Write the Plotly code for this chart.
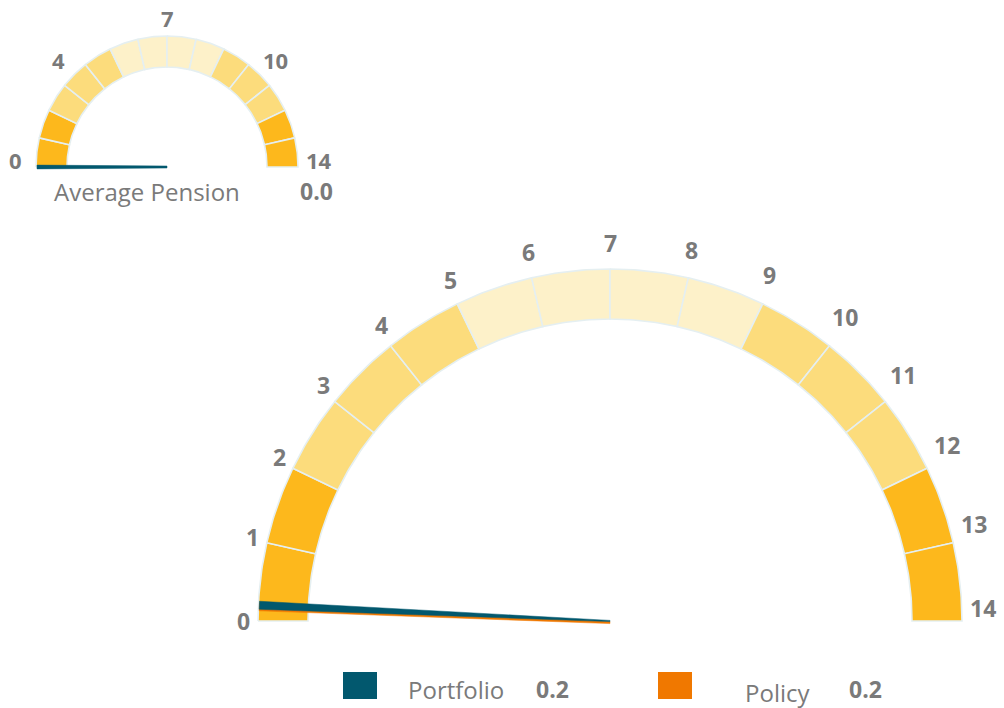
"""Two semicircular gauges (Average Pension / Portfolio vs Policy) drawn with Plotly."""
import math

import plotly.graph_objects as go

# ---------------------------------------------------------------------------
# Data
# ---------------------------------------------------------------------------
gauge_min = 0
gauge_max = 14
segment_edges = list(range(0, 15))            # 14 equal segments
band_starts = [0, 2, 5, 9, 12]
band_ends = [2, 5, 9, 12, 14]
band_colors = ["#FDB81C", "#FCDC7C", "#FDF1C9", "#FCDC7C", "#FDB81C"]

big_ticks = list(range(0, 15))
small_ticks = [0, 4, 7, 10, 14]

pension_label = "Average Pension"
pension_value = 0.0

series_names = ["Portfolio", "Policy"]
series_values = [0.2, 0.2]
series_colors = ["#02586E", "#F07800"]

# ---------------------------------------------------------------------------
# Layout constants (pixel space, y grows downward)
# ---------------------------------------------------------------------------
W, H = 1004, 708
SEP_COLOR = "#E5EFF1"
TXT_COLOR = "#7A7A7A"
FONT = "Open Sans"

BIG = dict(cx=610, cy=621, r_out=352, r_in=302)
SMALL = dict(cx=167, cy=167, r_out=131, r_in=100)


def _theta(v):
    return math.pi * (v - gauge_min) / (gauge_max - gauge_min)


def _pt(g, v, r):
    t = _theta(v)
    return g["cx"] - r * math.cos(t), g["cy"] - r * math.sin(t)


def _band_color(v0):
    for s, e, c in zip(band_starts, band_ends, band_colors):
        if s <= v0 < e:
            return c
    return band_colors[-1]


def add_ring(fig, g):
    for v0, v1 in zip(segment_edges[:-1], segment_edges[1:]):
        steps = [v0 + (v1 - v0) * k / 20 for k in range(21)]
        outer = [_pt(g, v, g["r_out"]) for v in steps]
        inner = [_pt(g, v, g["r_in"]) for v in reversed(steps)]
        pts = outer + inner + [outer[0]]
        fig.add_trace(go.Scatter(
            x=[p[0] for p in pts], y=[p[1] for p in pts],
            mode="lines", fill="toself", fillcolor=_band_color(v0),
            line=dict(color=SEP_COLOR, width=1.6),
            hoverinfo="skip", showlegend=False,
        ))


def add_needle(fig, g, value, color, tip_hw, base_hw, shift=0.0):
    t = _theta(value)
    ux, uy = -math.cos(t), -math.sin(t)
    nx, ny = -uy, ux
    tip_x, tip_y = _pt(g, value, g["r_out"] - 1)
    bx, by = g["cx"], g["cy"]
    pts = [
        (bx + nx * base_hw, by + ny * base_hw + shift),
        (tip_x + nx * tip_hw, tip_y + ny * tip_hw + shift),
        (tip_x - nx * tip_hw, tip_y - ny * tip_hw + shift),
        (bx - nx * base_hw, by - ny * base_hw + shift),
    ]
    pts.append(pts[0])
    fig.add_trace(go.Scatter(
        x=[p[0] for p in pts], y=[p[1] for p in pts],
        mode="lines", fill="toself", fillcolor=color,
        line=dict(color=color, width=0.5),
        hoverinfo="skip", showlegend=False,
    ))


def add_ticks(fig, g, ticks, rx, ry, size, dy=0.0, warp=0.0, right_lift=0.0,
              digit_shift=0.0):
    mid = (gauge_min + gauge_max) / 2
    for v in ticks:
        t = _theta(v) + math.radians(warp) * math.sin(2 * _theta(v))
        x = g["cx"] - rx * math.cos(t)
        y = g["cy"] + dy - ry * math.sin(t)
        if v > mid:
            y -= right_lift * (-math.cos(t))
            x += digit_shift * (len(str(v)) - 1)
        fig.add_annotation(
            x=x, y=y, text=f"<b>{v}</b>", showarrow=False,
            font=dict(family=FONT, size=size, color=TXT_COLOR),
            xanchor="center", yanchor="middle",
        )


fig = go.Figure()

# small gauge
add_ring(fig, SMALL)
add_needle(fig, SMALL, pension_value, series_colors[0], tip_hw=1.9, base_hw=1.0)
add_ticks(fig, SMALL, small_ticks, rx=152, ry=142, size=22, dy=-7, warp=-7)
fig.add_annotation(x=147, y=191, text=pension_label, showarrow=False,
                   font=dict(family=FONT, size=24, color=TXT_COLOR))
fig.add_annotation(x=316, y=191, text=f"<b>{pension_value:.1f}</b>", showarrow=False,
                   font=dict(family=FONT, size=23, color=TXT_COLOR))

# big gauge
add_ring(fig, BIG)
add_needle(fig, BIG, series_values[1], series_colors[1], tip_hw=4, base_hw=1, shift=1.6)
add_needle(fig, BIG, series_values[0], series_colors[0], tip_hw=4, base_hw=0.6)
add_ticks(fig, BIG, big_ticks, rx=367, ry=378, size=23, right_lift=13,
          digit_shift=6)

# legend-like boxes below
legend_x = [343, 658]
label_x = [456, 777]
value_x = [552, 865]
label_y = [689, 692]
for i, name in enumerate(series_names):
    fig.add_shape(type="rect", x0=legend_x[i], x1=legend_x[i] + 34, y0=672, y1=699,
                  fillcolor=series_colors[i], line=dict(width=0))
    fig.add_annotation(x=label_x[i], y=label_y[i], text=name, showarrow=False,
                       font=dict(family=FONT, size=24, color=TXT_COLOR))
    fig.add_annotation(x=value_x[i], y=689, text=f"<b>{series_values[i]:.1f}</b>",
                       showarrow=False,
                       font=dict(family=FONT, size=23, color=TXT_COLOR))

fig.update_layout(
    width=W, height=H,
    margin=dict(l=0, r=0, t=0, b=0),
    paper_bgcolor="white", plot_bgcolor="white",
    xaxis=dict(range=[0, W], visible=False, fixedrange=True),
    yaxis=dict(range=[H, 0], visible=False, fixedrange=True),
    showlegend=False,
)

fig.write_html("out.html", config={"displayModeBar": False},
               post_script="document.body.style.margin='0';")
